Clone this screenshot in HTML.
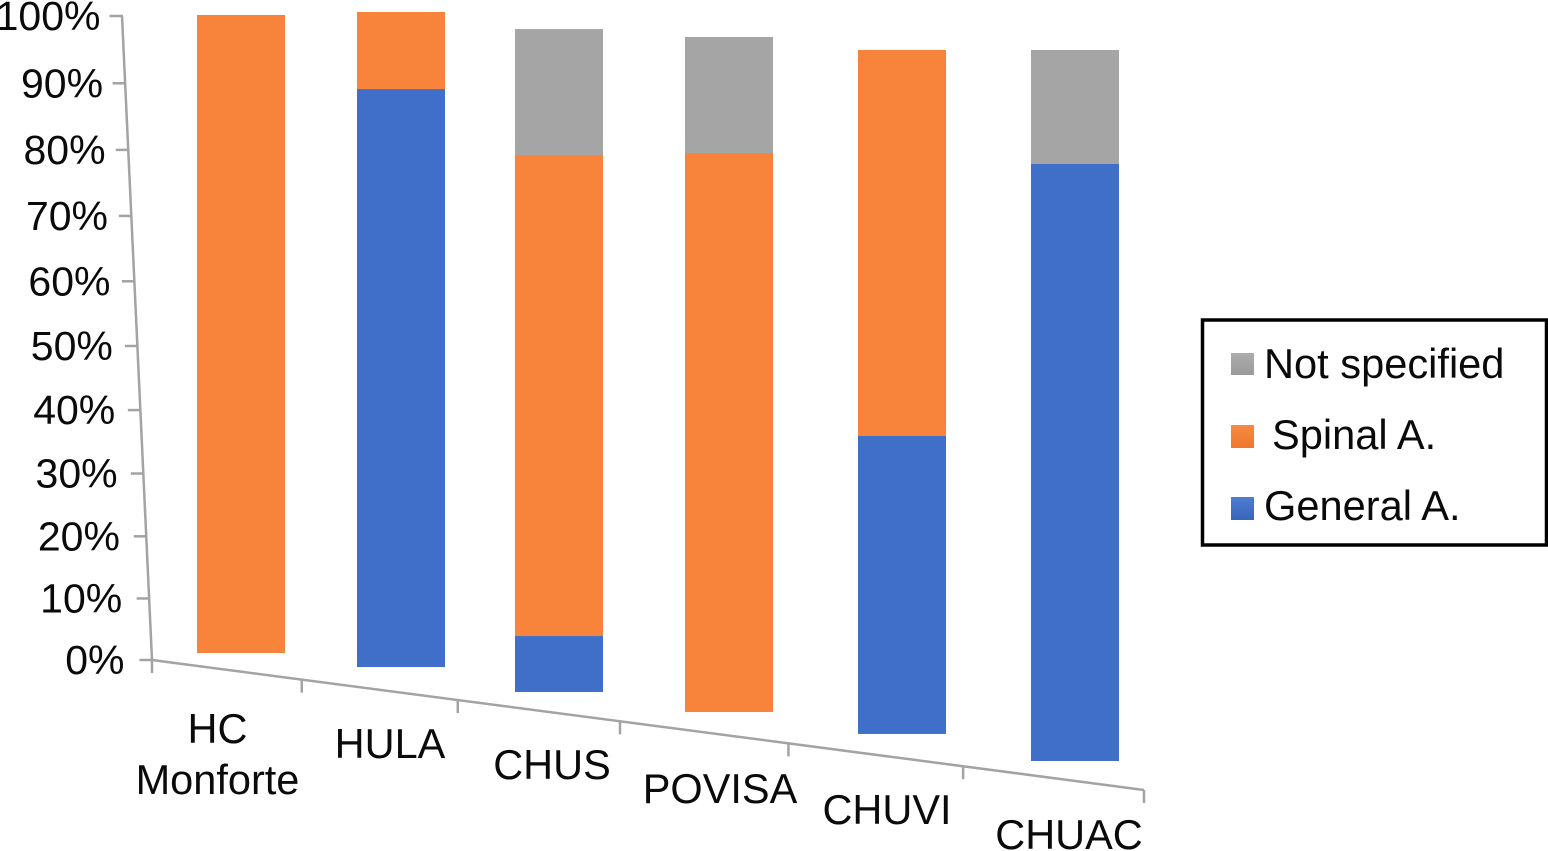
<!DOCTYPE html>
<html lang="en">
<head>
<meta charset="utf-8">
<title>Anaesthesia type by hospital</title>
<style>
html,body{margin:0;padding:0;background:#fff;width:1548px;height:851px;overflow:hidden}
svg{display:block;font-family:"Liberation Sans",Arial,sans-serif;fill:#0a0a0a}
.tick-label{font-size:41px;text-anchor:end}
.cat-label{font-size:41.5px;text-anchor:middle}
.legend-label{font-size:41.6px}
</style>
</head>
<body>
<svg id="chart" width="1548" height="851" viewBox="0 0 1548 851" xmlns="http://www.w3.org/2000/svg">
  <defs>
    <linearGradient id="grad-gray" x1="0" y1="0" x2="0" y2="1"><stop offset="0" stop-color="#adadad"/><stop offset="1" stop-color="#9a9a9a"/></linearGradient>
    <linearGradient id="grad-orange" x1="0" y1="0" x2="0" y2="1"><stop offset="0" stop-color="#f68a45"/><stop offset="1" stop-color="#ee772b"/></linearGradient>
    <linearGradient id="grad-blue" x1="0" y1="0" x2="0" y2="1"><stop offset="0" stop-color="#4d7ed2"/><stop offset="1" stop-color="#3964ba"/></linearGradient>
  </defs>
  <g id="bars"></g>
  <g id="y-axis"></g>
  <g id="x-axis"></g>
  <g>
    <text class="cat-label" x="217.5" y="743">HC</text>
    <text class="cat-label" x="217.5" y="794">Monforte</text>
    <text class="cat-label" x="390" y="758">HULA</text>
    <text class="cat-label" x="552" y="779">CHUS</text>
    <text class="cat-label" x="720" y="803">POVISA</text>
    <text class="cat-label" x="887" y="824">CHUVI</text>
    <text class="cat-label" x="1069" y="849">CHUAC</text>
  </g>
  <g>
    <rect x="1202.5" y="320" width="344" height="225" fill="#fff" stroke="#000" stroke-width="3.5"/>
    <rect x="1231" y="353" width="23" height="22" fill="url(#grad-gray)"/>
    <text class="legend-label" x="1264" y="378">Not specified</text>
    <rect x="1231" y="425" width="23" height="23" fill="url(#grad-orange)"/>
    <text class="legend-label" x="1272" y="449">Spinal A.</text>
    <rect x="1231" y="497" width="23" height="23" fill="url(#grad-blue)"/>
    <text class="legend-label" x="1264" y="520">General A.</text>
  </g>
</svg>
<script>
// Chart data (percent)
const categories = ['HC Monforte', 'HULA', 'CHUS', 'POVISA', 'CHUVI', 'CHUAC'];
const barStart = [0, 1.16, 0.63, 0.85, 0.78, 0];
const generalA = [0, 88.57, 8.39, 0, 42.79, 83.97];
const spinalA = [100, 11.8, 72.09, 81.99, 55.43, 0];
const notSpecified = [0, 0, 18.88, 17.01, 0, 16.03];
const yTicks = [0, 10, 20, 30, 40, 50, 60, 70, 80, 90, 100];

const NS = 'http://www.w3.org/2000/svg';
const AXIS_COLOR = '#a3a3a3';
const BAR_WIDTH = 88;

function make(parent, tag, attrs) {
  const el = document.createElementNS(NS, tag);
  for (const k in attrs) el.setAttribute(k, attrs[k]);
  parent.appendChild(el);
  return el;
}

// Left wall axis, foreshortened: percent -> screen position
function axisY(p) { const t = p / 100; return 660 - 612 * t - 32 * t * t; }
function axisX(p) { return 152 - 30 * (660 - axisY(p)) / 644; }

// Floor axis, foreshortened: category boundary index -> screen position
function floorTickX(i) { return 152 + 146.67 * i + 3.11 * i * i; }
function floorLineY(x) { return 660 + 0.131 * (x - 152); }

// Bar placement in the tilted projection
function barLeft(i) {
  const c2 = i * (i - 1) / 2;
  const c3 = c2 * (i - 2) / 3;
  const c4 = c3 * (i - 3) / 4;
  const c5 = c4 * (i - 4) / 5;
  return 197 + 160 * i - 2 * c2 + 14 * c3 - 23 * c4 + 29 * c5;
}
function barFloor(i) { return 653 + 21.6 * i; }
function barScale(i) { return 6.38 + 0.146 * i; }
function barY(i, p) { return barFloor(i) - p * barScale(i); }

// y axis
const yAxis = document.getElementById('y-axis');
const yLine = make(yAxis, 'line', { x1: axisX(0), y1: axisY(0), x2: axisX(100), y2: axisY(100), stroke: AXIS_COLOR, 'stroke-width': 2.5 });


yTicks.forEach(function (p) {
  const tick = make(yAxis, 'line', { x1: axisX(p) - 12.5, y1: axisY(p), x2: axisX(p) + 1, y2: axisY(p), stroke: AXIS_COLOR, 'stroke-width': 2.5 });
  
  
  const label = make(yAxis, 'text', { class: 'tick-label', x: axisX(p) - 27.5 + 0.06 * p, y: axisY(p) + 14 });
  label.textContent = p + '%';
  
  
});

// x axis
const xAxis = document.getElementById('x-axis');
const xEnd = floorTickX(categories.length);
const xLine = make(xAxis, 'line', { x1: 152, y1: floorLineY(152), x2: xEnd, y2: floorLineY(xEnd), stroke: AXIS_COLOR, 'stroke-width': 2.5 });


for (let i = 0; i <= categories.length; i++) {
  const x = floorTickX(i);
  const tick = make(xAxis, 'line', { x1: x, y1: floorLineY(x), x2: x, y2: floorLineY(x) + 13, stroke: AXIS_COLOR, 'stroke-width': 2.5 });
  
  
}

// stacked bars
const bars = document.getElementById('bars');
const seriesValues = [generalA, spinalA, notSpecified];
const seriesNames = ['general', 'spinal', 'not-specified'];
const seriesColors = ['#3f6fc8', '#f8833a', '#a5a5a5'];
categories.forEach(function (cat, i) {
  let cum = barStart[i];
  seriesValues.forEach(function (vals, s) {
    const v = vals[i];
    if (v > 0) {
      const top = barY(i, cum + v);
      const bottom = barY(i, cum);
      const seg = make(bars, 'rect', { x: barLeft(i), y: top, width: BAR_WIDTH, height: bottom - top, fill: seriesColors[s] });
      
      
    }
    cum += v;
  });
});
</script>
</body>
</html>
